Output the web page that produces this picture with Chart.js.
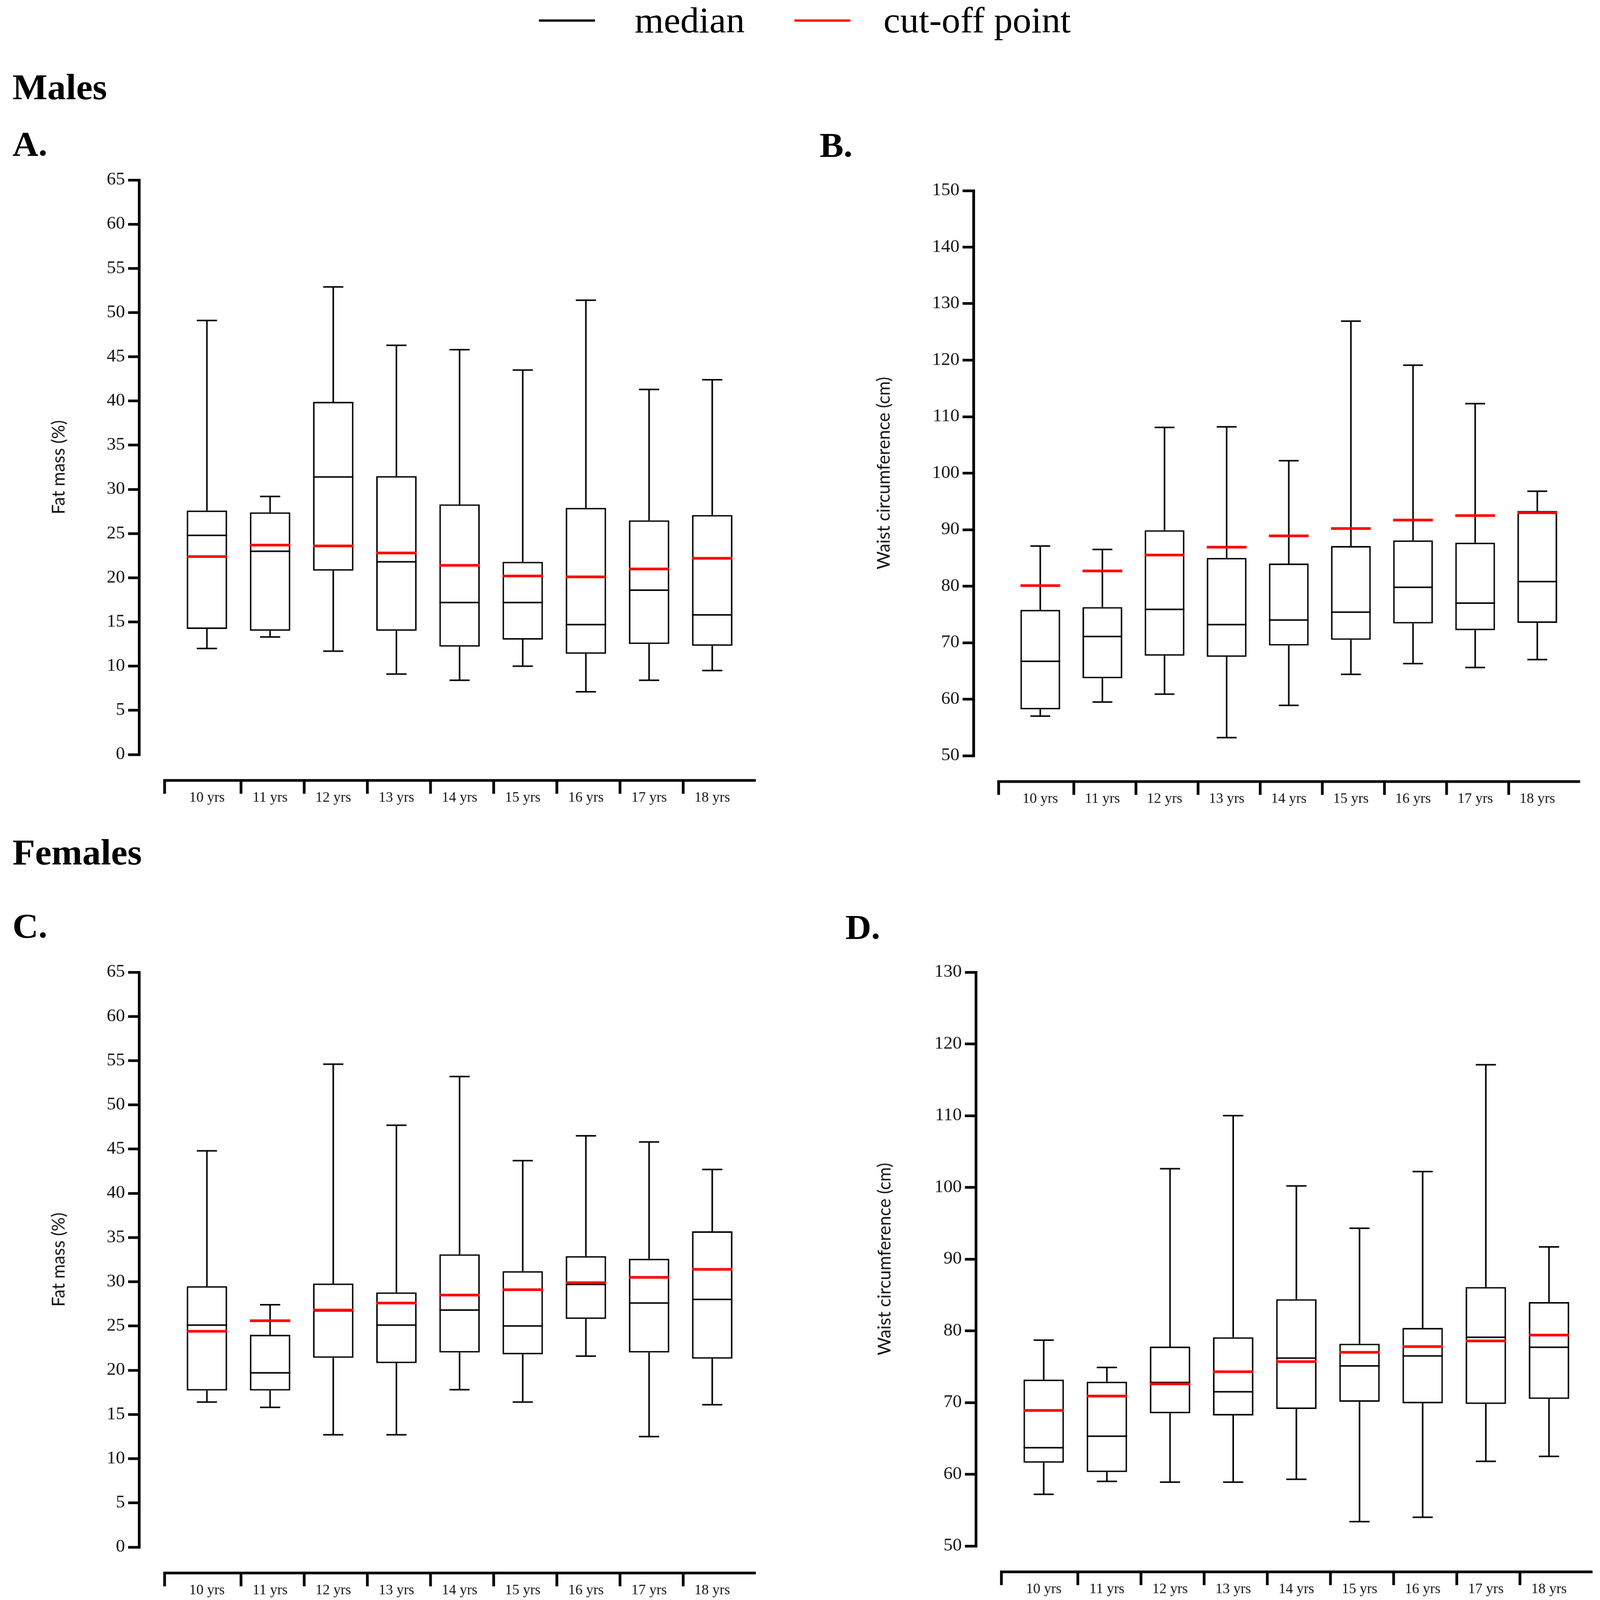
<!DOCTYPE html>
<html lang="en">
<head>
<meta charset="UTF-8">
<title>Fat mass and waist circumference by age</title>
<script src="https://cdn.jsdelivr.net/npm/chart.js"></script>
<style>
    html, body {
        margin: 0;
        padding: 0;
        width: 100%;
        height: 100%;
        background: #fff;
        overflow: hidden;
    }

    #page {
        position: absolute;
        left: 0;
        top: 0;
        width: 4109px;
        height: 4205px;
        transform-origin: 0 0;
        background: #fff;
    }

    canvas {
        position: absolute;
    }

    .txt {
        position: absolute;
        font-family: "Liberation Serif", serif;
        line-height: 1;
        white-space: nowrap;
        color: #000;
    }

    .head {
        font-weight: bold;
        font-size: 95px;
    }

    .tag {
        font-weight: bold;
        font-size: 92px;
    }

    .leg {
        font-size: 96px;
    }

    .legline {
        position: absolute;
        width: 144px;
        height: 6px;
    }
</style>
</head>
<body>
<div id="page">
    <div class="legline" style="left:1384px;top:51px;background:#000"></div>
    <div class="txt leg" style="left:1630px;top:5px">median</div>
    <div class="legline" style="left:2040px;top:51px;background:#ff0000"></div>
    <div class="txt leg" style="left:2269px;top:5px">cut-off point</div>

    <div class="txt head" style="left:32px;top:182px">Males</div>
    <div class="txt tag" style="left:32px;top:332px">A.</div>
    <div class="txt tag" style="left:2105px;top:335px">B.</div>

    <div class="txt head" style="left:32px;top:2193px">Females</div>
    <div class="txt tag" style="left:32px;top:2387px">C.</div>
    <div class="txt tag" style="left:2171px;top:2390px">D.</div>

    <canvas id="chartA" width="2000" height="1750" style="left:0;top:400px"></canvas>
    <canvas id="chartB" width="2059" height="1750" style="left:2050px;top:400px"></canvas>
    <canvas id="chartC" width="2000" height="1725" style="left:0;top:2480px"></canvas>
    <canvas id="chartD" width="2059" height="1725" style="left:2050px;top:2480px"></canvas>
</div>

<script>
    const ageLabels = ['10 yrs', '11 yrs', '12 yrs', '13 yrs', '14 yrs', '15 yrs', '16 yrs', '17 yrs', '18 yrs'];

    // A. males, fat mass (%)
    const maleFatMin = [12.0, 13.3, 11.7, 9.1, 8.4, 10.0, 7.1, 8.4, 9.5];
    const maleFatQ1 = [14.2, 14.0, 20.8, 14.0, 12.2, 13.0, 11.4, 12.5, 12.3];
    const maleFatMedian = [24.8, 23.0, 31.4, 21.8, 17.2, 17.2, 14.7, 18.6, 15.8];
    const maleFatQ3 = [27.6, 27.4, 39.9, 31.5, 28.3, 21.8, 27.9, 26.5, 27.1];
    const maleFatMax = [49.1, 29.2, 52.9, 46.3, 45.8, 43.5, 51.4, 41.3, 42.4];
    const maleFatCutoff = [22.4, 23.7, 23.6, 22.8, 21.4, 20.2, 20.1, 21.0, 22.2];

    // B. males, waist circumference (cm)
    const maleWaistMin = [57.0, 59.5, 60.9, 53.2, 58.9, 64.4, 66.3, 65.6, 67.0];
    const maleWaistQ1 = [58.2, 63.7, 67.7, 67.5, 69.5, 70.5, 73.4, 72.2, 73.5];
    const maleWaistMedian = [66.7, 71.1, 75.9, 73.2, 74.0, 75.4, 79.8, 77.0, 80.8];
    const maleWaistQ3 = [75.8, 76.3, 89.9, 85.0, 84.0, 87.1, 88.1, 87.7, 93.3];
    const maleWaistMax = [87.1, 86.5, 108.1, 108.2, 102.2, 126.9, 119.1, 112.3, 96.8];
    const maleWaistCutoff = [80.1, 82.7, 85.5, 86.9, 88.9, 90.2, 91.7, 92.5, 93.0];

    // C. females, fat mass (%)
    const femFatMin = [16.4, 15.8, 12.7, 12.7, 17.8, 16.4, 21.6, 12.5, 16.1];
    const femFatQ1 = [17.7, 17.7, 21.4, 20.8, 22.0, 21.8, 25.8, 22.0, 21.3];
    const femFatMedian = [25.1, 19.7, 26.7, 25.1, 26.8, 25.0, 29.7, 27.6, 28.0];
    const femFatQ3 = [29.5, 24.0, 29.8, 28.8, 33.1, 31.2, 32.9, 32.6, 35.7];
    const femFatMax = [44.8, 27.4, 54.6, 47.7, 53.2, 43.7, 46.5, 45.8, 42.7];
    const femFatCutoff = [24.4, 25.6, 26.8, 27.6, 28.5, 29.1, 29.9, 30.5, 31.4];

    // D. females, waist circumference (cm)
    const femWaistMin = [57.2, 59.0, 58.9, 58.9, 59.3, 53.4, 54.0, 61.8, 62.5];
    const femWaistQ1 = [61.6, 60.3, 68.5, 68.2, 69.1, 70.1, 69.9, 69.8, 70.5];
    const femWaistMedian = [63.7, 65.3, 72.8, 71.5, 76.2, 75.1, 76.5, 79.1, 77.7];
    const femWaistQ3 = [73.2, 72.9, 77.8, 79.1, 84.4, 78.2, 80.4, 86.1, 84.0];
    const femWaistMax = [78.7, 74.9, 102.6, 110.0, 100.2, 94.3, 102.2, 117.1, 91.7];
    const femWaistCutoff = [68.9, 70.9, 72.6, 74.3, 75.7, 77.0, 77.8, 78.6, 79.4];

    const RED = '#ff0000';
    const INK = '#000';

    // the figure is 4109x4205; squeeze it into the viewport if that is smaller
    const page = document.getElementById('page');
    const sx = Math.min(1, window.innerWidth / 4109);
    const sy = Math.min(1, window.innerHeight / 4205);
    if (sx < 1 || sy < 1) page.style.transform = `scale(${sx}, ${sy})`;

    // whiskers behind the boxes, median + cut-off on top, detached x baseline
    const boxExtras = {
        id: 'boxExtras',
        beforeDatasetsDraw(chart) {
            const s = chart.data.datasets[0].stats;
            const x = chart.scales.x, y = chart.scales.y;
            const bars = chart.getDatasetMeta(0).data;
            const ctx = chart.ctx;
            ctx.save();
            ctx.strokeStyle = INK;
            ctx.lineWidth = 4;
            s.min.forEach((lo, i) => {
                const cx = x.getPixelForValue(i);
                const cap = bars[i].width * 0.25;
                ctx.beginPath();
                ctx.moveTo(cx, y.getPixelForValue(s.max[i]));
                ctx.lineTo(cx, y.getPixelForValue(s.q3[i]));
                ctx.moveTo(cx, y.getPixelForValue(s.q1[i]));
                ctx.lineTo(cx, y.getPixelForValue(lo));
                ctx.moveTo(cx - cap, y.getPixelForValue(s.max[i]));
                ctx.lineTo(cx + cap, y.getPixelForValue(s.max[i]));
                ctx.moveTo(cx - cap, y.getPixelForValue(lo));
                ctx.lineTo(cx + cap, y.getPixelForValue(lo));
                ctx.stroke();
            });
            ctx.restore();
        },
        afterDatasetsDraw(chart) {
            const s = chart.data.datasets[0].stats;
            const x = chart.scales.x, y = chart.scales.y;
            const bars = chart.getDatasetMeta(0).data;
            const ctx = chart.ctx;
            ctx.save();
            s.median.forEach((m, i) => {
                const cx = x.getPixelForValue(i);
                const half = bars[i].width / 2;
                ctx.strokeStyle = INK;
                ctx.lineWidth = 4;
                ctx.beginPath();
                ctx.moveTo(cx - half, y.getPixelForValue(m));
                ctx.lineTo(cx + half, y.getPixelForValue(m));
                ctx.stroke();
                ctx.strokeStyle = RED;
                ctx.lineWidth = 7;
                ctx.beginPath();
                ctx.moveTo(cx - half, y.getPixelForValue(s.cutoff[i]));
                ctx.lineTo(cx + half, y.getPixelForValue(s.cutoff[i]));
                ctx.stroke();
            });
            ctx.restore();
        },
        afterDraw(chart) {
            const x = chart.scales.x;
            const ctx = chart.ctx;
            const y0 = chart.chartArea.bottom + 68;
            const xs = x.getPixelForValue(-0.67);
            ctx.save();
            ctx.strokeStyle = INK;
            ctx.lineWidth = 7;
            ctx.lineJoin = 'miter';
            ctx.beginPath();
            ctx.moveTo(xs, y0 + 35);
            ctx.lineTo(xs, y0);
            ctx.lineTo(chart.chartArea.right, y0);
            for (let i = 0; i < ageLabels.length - 1; i++) {
                const bx = x.getPixelForValue(i + 0.54);
                ctx.moveTo(bx, y0);
                ctx.lineTo(bx, y0 + 35);
            }
            ctx.stroke();
            ctx.restore();
        }
    };

    function makeBoxChart(id, stats, axis) {
        return new Chart(document.getElementById(id), {
            type: 'bar',
            data: {
                datasets: [{
                    data: stats.q1.map((q, i) => ({ x: i, y: [q, stats.q3[i]] })),
                    stats: stats,
                    backgroundColor: '#fff',
                    borderColor: INK,
                    borderWidth: 4,
                    borderSkipped: false,
                    categoryPercentage: 1,
                    barPercentage: 0.64
                }]
            },
            options: {
                responsive: false,
                animation: false,
                devicePixelRatio: 1,
                layout: { padding: axis.padding },
                plugins: { legend: { display: false }, tooltip: { enabled: false } },
                scales: {
                    x: {
                        type: 'linear',
                        offset: false,
                        min: -1.075,
                        max: 8.69,
                        afterFit: sc => { sc.height = axis.xHeight; },
                        afterBuildTicks: sc => { sc.ticks = ageLabels.map((_, i) => ({ value: i })); },
                        ticks: {
                            callback: v => ageLabels[v],
                            autoSkip: false,
                            maxRotation: 0,
                            padding: 84,
                            color: '#111',
                            font: { family: 'Liberation Serif', size: 37 }
                        },
                        grid: { display: false },
                        border: { display: false }
                    },
                    y: {
                        min: axis.min,
                        max: axis.max,
                        afterFit: sc => { sc.width = axis.yWidth; },
                        ticks: {
                            stepSize: axis.step,
                            padding: 8,
                            color: '#111',
                            font: { family: 'Liberation Serif', size: 47 }
                        },
                        grid: { drawOnChartArea: false, drawTicks: true, tickLength: 28, color: INK, lineWidth: 7 },
                        border: { display: true, color: INK, width: 7 },
                        title: {
                            display: true,
                            text: axis.title,
                            color: '#111',
                            font: { family: 'Lato', size: 46 },
                            padding: { top: axis.titlePad, bottom: 0 }
                        }
                    }
                }
            },
            plugins: [boxExtras]
        });
    }

    makeBoxChart('chartA',
        { min: maleFatMin, q1: maleFatQ1, median: maleFatMedian, q3: maleFatQ3, max: maleFatMax, cutoff: maleFatCutoff },
        { min: 0, max: 65, step: 5, title: 'Fat mass (%)', yWidth: 357, xHeight: 167, titlePad: 124,
          padding: { top: 73, right: 59, bottom: 0, left: 0 } });

    makeBoxChart('chartB',
        { min: maleWaistMin, q1: maleWaistQ1, median: maleWaistMedian, q3: maleWaistQ3, max: maleWaistMax, cutoff: maleWaistCutoff },
        { min: 50, max: 150, step: 10, title: 'Waist circumference (cm)', yWidth: 450, xHeight: 164, titlePad: 193,
          padding: { top: 101, right: 51, bottom: 0, left: 0 } });

    makeBoxChart('chartC',
        { min: femFatMin, q1: femFatQ1, median: femFatMedian, q3: femFatQ3, max: femFatMax, cutoff: femFatCutoff },
        { min: 0, max: 65, step: 5, title: 'Fat mass (%)', yWidth: 357, xHeight: 139, titlePad: 124,
          padding: { top: 75, right: 59, bottom: 0, left: 0 } });

    makeBoxChart('chartD',
        { min: femWaistMin, q1: femWaistQ1, median: femWaistMedian, q3: femWaistQ3, max: femWaistMax, cutoff: femWaistCutoff },
        { min: 50, max: 130, step: 10, title: 'Waist circumference (cm)', yWidth: 456, xHeight: 142, titlePad: 195,
          padding: { top: 75, right: 18, bottom: 0, left: 0 } });
</script>
</body>
</html>
